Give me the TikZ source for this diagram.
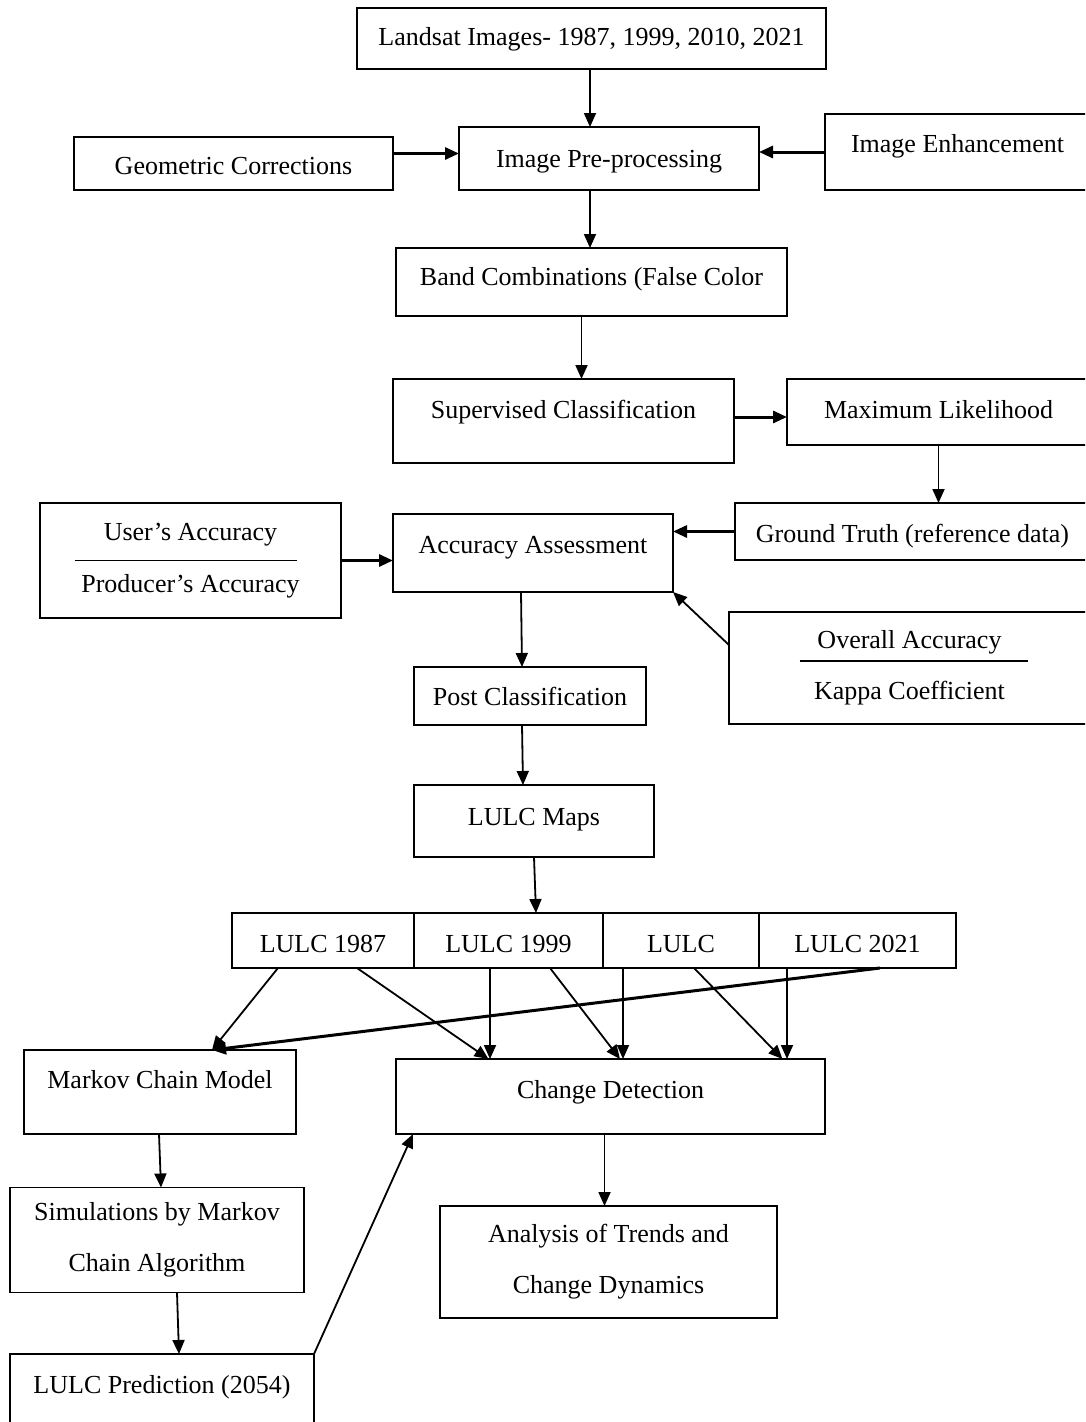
\documentclass[tikz,border=0pt]{standalone}
\usepackage{fontspec}
\setmainfont{Liberation Serif}
\usepackage{tikz}
\usetikzlibrary{arrows.meta, positioning}

\begin{document}
\begin{tikzpicture}[
      x=1pt, y=-1pt,
      font=\fontsize{26}{51}\selectfont,
      block/.style={draw, line width=1.8pt, inner sep=0pt, outer sep=0pt, align=center},
      boxsize/.style n args={4}{minimum width=#1pt, minimum height=#2pt,
                                text height=#3pt, text depth=#4pt},
      arr/.style={-{Triangle[length=14pt, width=12pt]}, line width=1.8pt},
      thickarr/.style={arr, line width=3pt}
  ]
    \useasboundingbox (0,0) rectangle (1085,1422);
    \clip (0,0) rectangle (1085,1422);

    \node[block, boxsize={469}{61}{37}{24}] (lsat) at (591.5,38.5) {Landsat Images- 1987, 1999, 2010, 2021};
    \node[block, boxsize={319}{53}{37}{16}] (geo)  at (233.5,163.5) {Geometric Corrections};
    \node[block, boxsize={300}{63}{40}{23}] (pre)  at (609,158.5)   {Image Pre-processing};
    \node[block, boxsize={265}{76}{38}{38}] (enh)  at (957.5,152)   {Image Enhancement};
    \node[block, boxsize={391}{68}{37}{31}] (band) at (591.5,282)   {Band Combinations (False Color};
    \node[block, boxsize={341}{84}{39}{45}] (sup)  at (563.5,421)   {Supervised Classification};
    \node[block, boxsize={303}{66}{39}{27}] (mlh)  at (938.5,412)   {Maximum Likelihood};
    \node[block, boxsize={355}{57}{39}{18}] (gt)   at (912.5,531.5) {Ground Truth (reference data)};
    \node[block, boxsize={280}{78}{39}{39}] (acc)  at (533,553)     {Accuracy Assessment};
    \node[block, minimum width=301pt, minimum height=115pt] (upa) at (190.5,560.5)
         {User's Accuracy\\[1pt]Producer's Accuracy};
    \node[block, minimum width=361pt, minimum height=112pt] (oka) at (909.5,668)
         {Overall Accuracy\\Kappa Coefficient};
    \node[block, boxsize={232}{58}{38}{20}] (post) at (530,696)     {Post Classification};
    \node[block, boxsize={240}{72}{40}{32}] (maps) at (534,821)     {LULC Maps};

    % LULC maps by year
    \node[block, boxsize={182}{55}{39}{16}] (l87) at (323,940.5) {LULC 1987};
    \node[block, boxsize={189}{55}{39}{16}, right=0pt of l87] (l99) {LULC 1999};
    \node[block, boxsize={156}{55}{39}{16}, right=0pt of l99] (l10) {LULC};
    \node[block, boxsize={197}{55}{39}{16}, right=0pt of l10] (l21) {LULC 2021};

    \node[block, boxsize={272}{84}{38}{46}] (mkv)  at (160,1092)    {Markov Chain Model};
    \node[block, boxsize={429}{75}{39}{36}] (chg)  at (610.5,1096.5) {Change Detection};
    \node[block, minimum width=294pt, minimum height=105pt] (sim) at (157,1240)
         {Simulations by Markov\\Chain Algorithm};
    \node[block, minimum width=337pt, minimum height=112pt] (ana) at (608.5,1262)
         {Analysis of Trends and\\Change Dynamics};
    \node[block, boxsize={304}{106}{39}{67}] (pred) at (162,1407)   {LULC Prediction (2054)};

    % rules inside the accuracy boxes
    \draw[line width=1.8pt] ([xshift=-116pt]upa.center) -- ([xshift=106pt]upa.center);
    \draw[line width=1.8pt] ([xshift=-110pt, yshift=7pt]oka.center) -- ([xshift=118pt, yshift=7pt]oka.center);

    \draw[arr] ([xshift=-1.5pt]lsat.south) -- ([xshift=-1.5pt]lsat.south |- pre.north);
    \draw[thickarr] ([yshift=10pt]geo.east) -- ([yshift=10pt]geo.east -| pre.west);
    \draw[thickarr] (enh.west) -- (enh.west -| pre.east);
    \draw[arr] ([xshift=-19pt]pre.south) -- ([xshift=-19pt]pre.south |- band.north);
    \draw[arr] ([xshift=-10pt]band.south) -- ([xshift=-10pt]band.south |- sup.north);
    \draw[thickarr] ([yshift=4pt]sup.east) -- ([yshift=4pt]sup.east -| mlh.west);
    \draw[arr] (mlh.south) -- (mlh.south |- gt.north);
    \draw[thickarr] (gt.west) -- (gt.west -| acc.east);
    \draw[thickarr] (upa.east) -- (upa.east -| acc.west);
    \draw[arr] ([yshift=23pt]oka.west) -- (acc.south east);
    \draw[arr] ([xshift=-12pt]acc.south) -- ([xshift=-8pt]post.north);
    \draw[arr] ([xshift=-8pt]post.south) -- ([xshift=-11pt]maps.north);
    \draw[arr] (maps.south) -- ([xshift=27.5pt]l99.north);

    \draw[arr] ([xshift=-45pt]l87.south) -- ([xshift=52pt]mkv.north);
    \draw[arr] ([xshift=34pt]l87.south) -- ([xshift=-122pt]chg.north);
    \draw[arr] ([xshift=-18.5pt]l99.south) -- ([xshift=-120.5pt]chg.north);
    \draw[arr] ([xshift=41.5pt]l99.south) -- ([xshift=9.5pt]chg.north);
    \draw[arr] ([xshift=-58pt]l10.south) -- ([xshift=12.5pt]chg.north);
    \draw[arr] ([xshift=13pt]l10.south) -- ([xshift=172pt]chg.north);
    \draw[arr] ([xshift=-70.5pt]l21.south) -- ([xshift=176.5pt]chg.north);
    \draw[thickarr] ([xshift=22.5pt]l21.south) -- ([xshift=52pt]mkv.north);

    \draw[arr] ([xshift=-1pt]mkv.south) -- ([xshift=4pt]sim.north);
    \draw[arr] ([xshift=20pt]sim.south) -- ([xshift=17pt]pred.north);
    \draw[arr] (pred.north east) -- ([xshift=17pt]chg.south west);
    \draw[arr] ([xshift=-6pt]chg.south) -- ([xshift=-6pt]chg.south |- ana.north);
  \end{tikzpicture}
\end{document}
